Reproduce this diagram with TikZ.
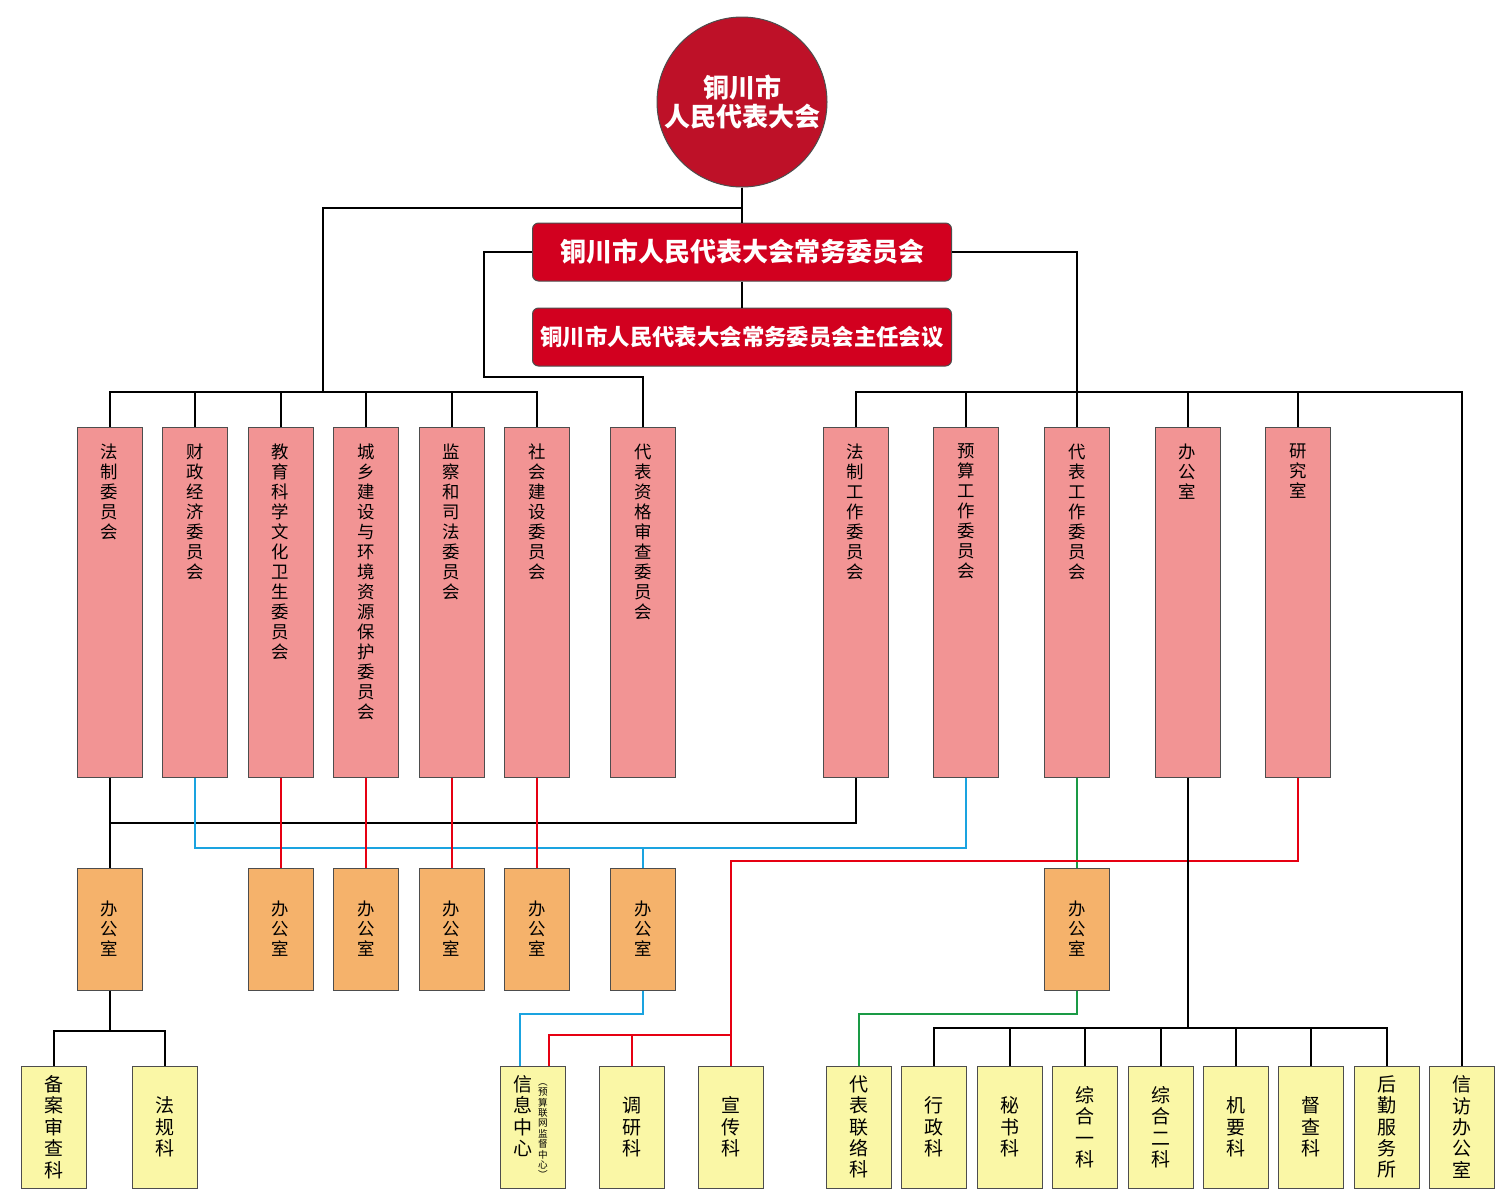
\documentclass[tikz,border=0pt]{standalone}
\usepackage{fontspec}
\setmainfont{Noto Sans CJK SC}
\usepackage{tikz}
\usetikzlibrary{positioning}

\definecolor{pinkfill}{HTML}{F29494}
\definecolor{orgfill}{HTML}{F5B26B}
\definecolor{yelfill}{HTML}{FAF7A6}
\definecolor{circred}{HTML}{BE1128}
\definecolor{boxred}{HTML}{D2001F}
\definecolor{lnred}{HTML}{E60012}
\definecolor{lnblue}{HTML}{1AA3E0}
\definecolor{lngreen}{HTML}{1A9A45}
\definecolor{edgegray}{HTML}{4D4D4D}

% stack the characters of a word one under the other
\makeatletter
\newcommand\vchars[2][16pt]{\edef\vc@tmp{#2}\def\vc@w{#1}\expandafter\vc@do\vc@tmp\relax}
\def\vc@do#1{\ifx#1\relax\else\hbox to \vc@w{\hss#1\hss}\expandafter\vc@do\fi}
\makeatother

\tikzset{
  pinkbox/.style = {draw=edgegray, line width=0.5pt, fill=pinkfill, inner sep=0pt,
    minimum width=32.5pt, minimum height=175pt, font=\fontsize{8.7}{10}\selectfont},
  orgbox/.style = {draw=edgegray, line width=0.5pt, fill=orgfill, inner sep=0pt,
    minimum width=32.5pt, minimum height=61pt, font=\fontsize{8.7}{10}\selectfont},
  yelbox/.style = {draw=edgegray, line width=0.5pt, fill=yelfill, inner sep=0pt,
    minimum width=32.5pt, minimum height=61pt, font=\fontsize{9.5}{10.7}\selectfont},
  redbox/.style = {draw=edgegray, line width=0.5pt, fill=boxred, rounded corners=3pt,
    minimum width=209.5pt, minimum height=29pt, inner sep=0pt, text=white},
  blk/.style = {line width=1pt, black},
  rline/.style = {line width=1pt, lnred},
  bline/.style = {line width=1pt, lnblue},
  gline/.style = {line width=1pt, lngreen}
}

\begin{document}
\begin{tikzpicture}[x=0.5pt, y=-0.5pt]
\useasboundingbox (0,0) rectangle (1500,1191);

% top
\node[circle, draw=edgegray, line width=0.5pt, fill=circred, minimum size=85pt, inner sep=0pt,
  text=white, align=center, font=\bfseries\fontsize{13}{14.5}\selectfont] (circ) at (742,102)
  {铜川市\\人民代表大会};
\node[redbox, font=\bfseries\fontsize{13}{14}\selectfont] (cw) at (742,252) {铜川市人民代表大会常务委员会};
\node[redbox, font=\bfseries\fontsize{11.2}{13}\selectfont] (cz) at (742,337) {铜川市人民代表大会常务委员会主任会议};

% committees
\foreach \n/\x/\t in {p1/109.5/法制委员会,p2/195/财政经济委员会,p3/280.5/教育科学文化卫生委员会,
  p4/366/城乡建设与环境资源保护委员会,p5/451.5/监察和司法委员会,p6/537/社会建设委员会,
  p7/643/代表资格审查委员会,p8/855.5/法制工作委员会,p9/966/预算工作委员会,
  p10/1077/代表工作委员会,p11/1187.5/办公室,p12/1298/研究室}
  \node[pinkbox] (\n) at (\x,602) {\vbox to 175pt{\vskip 8.5pt\vchars{\t}\vfil}};

% offices
\foreach \n/\x in {o1/109.5,o2/280.5,o3/366,o4/451.5,o5/537,o6/643,o7/1077}
  \node[orgbox] (\n) at (\x,929) {\vbox{\vchars{办公室}}};

% sections
\foreach \n/\x/\t in {ba/54/备案审查科,fg/165/法规科,dy/632/调研科,xc/731/宣传科,
  dl/858.5/代表联络科,xz/934/行政科,ms/1009.5/秘书科,z1/1085/综合一科,z2/1160.5/综合二科,
  jy/1236/机要科,dc/1311/督查科,hq/1386.5/后勤服务所,xf/1462/信访办公室}
  \node[yelbox] (\n) at (\x,1127) {\vbox{\vchars{\t}}};
\node[yelbox] (xx) at (533,1127)
  {\hbox{\vtop{\vchars[10pt]{信息中心}}\raisebox{3pt}{\vtop{\fontsize{4.8}{5.2}\selectfont\vchars[10pt]{︵预算联网监督中心︶}}}}};

% upper connectors
\coordinate (lb) at (323,392);
\coordinate (lk) at (484,377);
\draw[blk] (circ.south) -- (cw.north);
\draw[blk] (circ.south) -- ++(0,20) -| (lb);
\draw[blk] (cw.south) -- (cz.north);
\draw[blk] (cw.west) -| (lk) -| (p7.north);
\draw[blk] (cw.east) -| (p10.north);
\draw[blk] (p1.north) -- ++(0,-35) -| (p6.north);
\foreach \n in {p2,p3,p4,p5,p9,p11,p12}
  \draw[blk] (\n.north) -- ++(0,-35);
\draw[blk] (p8.north) -- ++(0,-35) -| (xf.north);

% middle connectors
\draw[blk] (p1.south) -- (o1.north);
\draw[blk] (p1.south) -- ++(0,45) -| (p8.south);
\draw[bline] (p2.south) -- ++(0,70) -| (p9.south);
\draw[bline] (o6.north) -- ++(0,-21);
\foreach \a/\b in {p3/o2,p4/o3,p5/o4,p6/o5}
  \draw[rline] (\a.south) -- (\b.north);
\draw[gline] (p10.south) -- (o7.north);

% lower connectors
\draw[blk] (o1.south) -- ++(0,41);
\draw[blk] (ba.north) -- ++(0,-35) -| (fg.north);
\draw[rline] (p12.south) -- ++(0,83) -| (xc.north);
\draw[rline] (xc.north) -- ++(0,-31) -| ([xshift=8pt]xx.north);
\draw[rline] (dy.north) -- ++(0,-31);
\draw[bline] (o6.south) -- ++(0,23) -| ([xshift=-6.5pt]xx.north);
\draw[gline] (o7.south) -- ++(0,23) -| (dl.north);
\draw[blk] (p11.south) -- ++(0,251);
\draw[blk] (xz.north) -- ++(0,-38) -| (hq.north);
\foreach \n in {ms,z1,z2,jy,dc}
  \draw[blk] (\n.north) -- ++(0,-38);
\end{tikzpicture}
\end{document}
